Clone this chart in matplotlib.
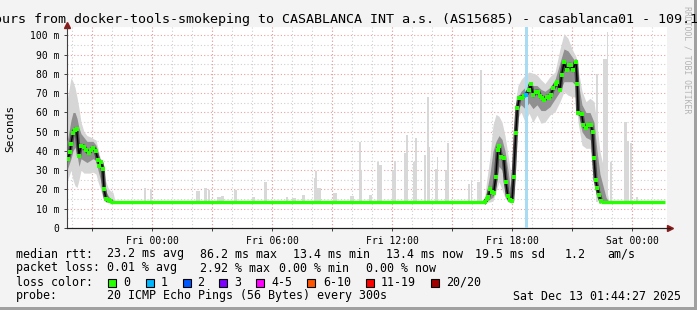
import matplotlib
matplotlib.use("Agg")
import matplotlib.pyplot as plt
from matplotlib.patches import Rectangle

plt.rcParams['font.family'] = ['DejaVu Sans Mono']

W, H = 697, 310

# time axis: hours since Thu 19:44, 30 hours shown
tick_pos = [4.25, 10.25, 16.25, 22.25, 28.25]
tick_labels = ['Fri 00:00', 'Fri 06:00', 'Fri 12:00', 'Fri 18:00', 'Sat 00:00']
y_ticks = [0, 10, 20, 30, 40, 50, 60, 70, 80, 90, 100]
y_labels = ['0'] + ['%d m' % v for v in y_ticks[1:]]

# median rtt (ms), busy period at the start
med_a_t = [0.04, 0.15, 0.2, 0.3, 0.4, 0.48, 0.6, 0.7, 0.85, 0.95, 1.09, 1.22, 1.3, 1.43,
           1.55, 1.62, 1.7, 1.79, 1.85, 1.95, 2.09, 2.15]
med_a = [36, 39.4, 43.8, 49.5, 51, 51.3, 37.6, 42.7, 42.2, 40.5, 39, 40.5, 41.7, 40.2,
         35.3, 32.4, 34.4, 30.6, 20.3, 14.9, 14.5, 14.2]

# median rtt (ms), busy period in the evening
med_b_t = [20.9, 20.99, 21.07, 21.15, 21.24, 21.33, 21.44, 21.54, 21.6, 21.7, 21.83, 21.94,
           22.04, 22.15, 22.25, 22.33, 22.44, 22.52, 22.62, 22.73, 22.83, 22.93, 23.11, 23.18,
           23.32, 23.45, 23.56, 23.65, 23.76, 23.86, 23.98, 24.1, 24.18, 24.31, 24.43, 24.52,
           24.65, 24.73, 24.85, 24.98, 25.11, 25.2, 25.28, 25.45, 25.51, 25.56, 25.73, 25.82,
           25.95, 26.06, 26.2, 26.28, 26.35, 26.43, 26.52, 26.6, 26.7]
med_b = [13.6, 14.9, 16.3, 20, 18.9, 18, 26.7, 40.5, 42.4, 37, 36.6, 24,
         16.5, 14.5, 13.9, 26.3, 49.2, 62.2, 67.7, 67.7, 68.5, 69, 71.7, 74.6,
         69, 70.8, 70.8, 68.7, 67.7, 66.5, 68.2, 67.7, 69, 72.5, 74.6, 75.7,
         71.7, 79.5, 86, 82, 84.7, 84.7, 82, 86.4, 75, 59.6, 59.3, 53.5,
         52, 53.5, 53.5, 49.7, 36.5, 25, 20.6, 17.1, 14]
loss1_t = [22.93]
loss1_v = [69]

# quiet baseline median
base_rtt = 13.4
base_spans = [(2.15, 20.9), (26.7, 29.9)]

# smoke envelope, start period: max, min, inner band
smoke_a_t = [0, 0.1, 0.2, 0.3, 0.4, 0.5, 0.6, 0.7, 0.85, 1.0, 1.15, 1.3, 1.45, 1.55, 1.65,
             1.75, 1.85, 1.95, 2.05, 2.15, 2.3, 2.4]
smoke_a_hi = [66, 72, 78, 76, 73, 68, 62, 55, 50, 48, 47.4, 46.5, 45.7, 41.5, 37, 32, 29, 24,
              21, 19.5, 18.5, 14]
smoke_a_lo = [24, 27, 30, 25, 22, 21, 25, 30, 28.5, 28.5, 28.5, 29, 28, 24, 21, 17, 15.6, 13.5,
              13.3, 13.3, 13.3, 13.3]
smoke_a_hi2 = [45, 50, 56, 60, 60, 57, 52, 49, 47, 45, 45, 45, 43, 39, 36, 33, 26, 19, 17, 15.5,
               14.5, 13.5]
smoke_a_lo2 = [30, 33, 36, 40, 42, 38, 32, 36, 35, 34, 35, 36, 35, 30, 26, 22, 16, 13.5, 13.5,
               13.4, 13.4, 13.4]

# smoke envelope, evening period
smoke_b_t = [20.85, 21.0, 21.15, 21.3, 21.45, 21.6, 21.75, 21.9, 22.05, 22.15, 22.25, 22.35,
             22.45, 22.55, 22.7, 22.9, 23.1, 23.3, 23.5, 23.7, 23.9, 24.15, 24.4, 24.65, 24.85,
             25.05, 25.25, 25.45, 25.55, 25.75, 25.95, 26.15, 26.35, 26.5, 26.65, 26.8, 26.95,
             27.1]
smoke_b_hi = [13.5, 26, 37, 53.5, 59, 58, 55, 48, 38, 31, 27.5, 48, 67.5, 74, 77, 79.5, 81,
              80.4, 79.5, 77, 75, 78.6, 81, 93, 101, 98.5, 93, 89, 83, 71, 65.6, 67.4, 65.6,
              53.5, 39.6, 32.7, 22, 13.5]
smoke_b_lo = [13.3, 13.4, 13.5, 14, 19, 24, 20, 15.6, 13.5, 13.4, 13.4, 14, 32.7, 57, 60.4,
              55, 59.6, 55, 58.7, 54.4, 55, 58.7, 60.4, 65.6, 70.8, 69, 68.2, 68, 55, 43, 41.4,
              41.4, 34.4, 20.6, 13.5, 13.4, 13.3, 13.3]
smoke_b_hi2 = [13.5, 20, 28, 40, 45, 48, 46, 40, 30, 22, 18, 35, 58, 68, 71, 73, 75, 74, 74,
               72, 71, 73, 77, 86, 93, 92, 89, 86, 76, 64, 60, 60, 55, 40, 28, 22, 16, 13.4]
smoke_b_lo2 = [13.4, 14, 15, 16, 22, 32, 30, 20, 14.5, 13.5, 13.5, 18, 42, 62, 64, 62, 65, 62,
               64, 61, 61, 63, 67, 71, 76, 76, 76, 74, 60, 50, 47, 46, 42, 25, 15, 13.5, 13.4,
               13.4]

# isolated max-ping spikes during the quiet hours: time, width (h), top (ms)
spike_t = [3.9, 4.2, 6.5, 6.62, 6.9, 7.12, 7.6, 7.75, 8.4, 9.32, 9.9, 11.0, 11.35, 11.8, 12.4,
           12.45, 12.62, 13.4, 14.25, 14.65, 14.72, 15.15, 15.55, 15.68, 16.3, 16.42, 16.9,
           17.0, 17.35, 17.45, 17.92, 18.05, 18.12, 18.45, 18.5, 18.95, 19.05, 20.1, 20.22,
           20.55, 20.7, 26.5, 26.88, 27.02, 27.2, 27.9, 28.05, 28.2, 28.5]
spike_w = [0.1, 0.1, 0.1, 0.1, 0.15, 0.1, 0.2, 0.15, 0.15, 0.15, 0.15, 0.1, 0.2, 0.15, 0.1,
           0.06, 0.2, 0.2, 0.2, 0.1, 0.1, 0.15, 0.1, 0.15, 0.1, 0.1, 0.1,
           0.06, 0.15, 0.1, 0.1, 0.07, 0.1, 0.1, 0.05, 0.15, 0.07, 0.1, 0.07,
           0.15, 0.07, 0.1, 0.2, 0.07, 0.1, 0.15, 0.1, 0.1, 0.1]
spike_top = [20.8, 20, 19, 19.2, 20.6, 19.7, 16, 16.5, 19.5, 16, 24, 16, 15.5, 17, 26,
             29.6, 21, 18.3, 16.5, 44.8, 30, 17, 34.4, 32.7, 30, 34.8, 38.8,
             48.3, 34.4, 46.6, 37.7, 68.2, 42, 30.5, 37, 30, 44, 23, 25,
             24, 82, 80, 88, 102, 34.5, 55, 45, 44, 16]

blue_span = (22.9, 23.04)

loss_labels = ['0', '1', '2', '3', '4-5', '6-10', '11-19', '20/20']
loss_colors = ['#26ff00', '#00b8ff', '#0059ff', '#7e00ff', '#ff00ff', '#ff5500', '#ff0000', '#a10000']
loss_box_x = [108, 146, 183, 219, 256, 307, 366, 431]
loss_text_x = [123, 161, 197, 234, 271, 323, 381, 446]

fig = plt.figure(figsize=(W / 100, H / 100), dpi=100, facecolor='#f3f3f3')
ax = fig.add_axes([67 / W, 82 / H, 600 / W, 201 / H])
ax.set_facecolor('white')
ax.set_xlim(0, 30)
ax.set_ylim(0, 104.4)

# grid: minor grey, major red
for h in [0.25 + i for i in range(30)]:
    ax.axvline(h, color='#d0d0d0', lw=0.8, ls=(0, (1, 2)), zorder=0)
for v in [5 + 10 * i for i in range(11)]:
    ax.axhline(v, color='#d0d0d0', lw=0.8, ls=(0, (1, 2)), zorder=0)
for h in [1.25 + 3 * i for i in range(10)]:
    ax.axvline(h, color='#e8a0a0', lw=0.8, ls=(0, (1, 2)), zorder=0)
for v in y_ticks[1:]:
    ax.axhline(v, color='#e8a0a0', lw=0.8, ls=(0, (1, 2)), zorder=0)

# spikes
ax.bar(spike_t, [t - base_rtt for t in spike_top], width=spike_w, bottom=base_rtt,
       color='#d8d8d8', lw=0, zorder=1)

# smoke
for t, hi, lo, hi2, lo2 in [(smoke_a_t, smoke_a_hi, smoke_a_lo, smoke_a_hi2, smoke_a_lo2),
                            (smoke_b_t, smoke_b_hi, smoke_b_lo, smoke_b_hi2, smoke_b_lo2)]:
    ax.fill_between(t, lo, hi, color='#d6d6d6', lw=0, zorder=2)
    ax.fill_between(t, lo2, hi2, color='#909090', lw=0, zorder=3)

ax.axvspan(blue_span[0], blue_span[1], color='#a8dcf2', lw=0, zorder=3.5)

# median: dark core, then loss-coloured points
for t, m in [(med_a_t, med_a), (med_b_t, med_b)]:
    ax.plot(t, m, color='#4a4a4a', lw=3.0, zorder=4)
    ax.plot(t, m, color='black', lw=1.0, zorder=5)
    ax.plot(t, m, ls='none', marker='s', ms=2.6, mew=0, color='#26ff00', zorder=6)
ax.plot(loss1_t, loss1_v, ls='none', marker='s', ms=2.6, mew=0, color='#00b8ff', zorder=6)
for a, b in base_spans:
    ax.plot([a, b], [base_rtt, base_rtt], color='#26ff00', lw=2.4, solid_capstyle='butt', zorder=6)

# axes
for s in ['top', 'right']:
    ax.spines[s].set_visible(False)
ax.spines['left'].set_color('#404040')
ax.spines['bottom'].set_color('#202020')
ax.spines['left'].set_linewidth(0.8)
ax.spines['bottom'].set_linewidth(0.8)
ax.plot([0], [1.01], transform=ax.transAxes, marker='^', ms=5, color='#8b1a1a', clip_on=False)
ax.plot([1.005], [0], transform=ax.transAxes, marker='>', ms=5, color='#8b1a1a', clip_on=False)
ax.plot([0, 1.005], [0, 0], transform=ax.transAxes, color='#202020', lw=0.8, clip_on=False)

ax.set_xticks(tick_pos)
ax.set_xticklabels(tick_labels, fontsize=7)
ax.set_xticks([1.25 + 3 * i for i in range(10)], minor=True)
ax.set_yticks(y_ticks)
ax.set_yticklabels(y_labels, fontsize=7)
ax.tick_params(axis='both', length=2.5, width=0.7, color='#404040', pad=3)
ax.tick_params(axis='x', which='minor', length=2, width=0.7, color='#404040')

fig.text(10 / W, 1 - 128 / H, 'Seconds', rotation=90, fontsize=8, ha='center', va='center')
fig.text(687 / W, 1 - 60 / H, 'RRDTOOL / TOBI OETIKER', rotation=270, fontsize=5.9,
         color='#b4b4b4', ha='center', va='center')

fig.text(-78 / W, 1 - 19 / H,
         'Last 30 Hours from docker-tools-smokeping to CASABLANCA INT a.s. (AS15685) - casablanca01 - 109.1',
         fontsize=9.6, ha='left', va='center')

# legend block
def line(y, parts):
    for x, s in parts:
        fig.text(x / W, 1 - y / H, s, fontsize=8.4, ha='left', va='center')

line(254, [(16, 'median rtt:'), (107, '23.2 ms avg'), (200, '86.2 ms max'), (293, '13.4 ms min'),
           (386, '13.4 ms now'), (475, '19.5 ms sd'), (565, '1.2'), (607, 'am/s')])
line(268, [(16, 'packet loss:'), (107, '0.01 % avg'), (200, '2.92 % max'), (279, '0.00 % min'),
           (366, '0.00 % now')])
line(282, [(16, 'loss color:')] + list(zip(loss_text_x, loss_labels)))
line(296, [(16, 'probe:'), (107, '20 ICMP Echo Pings (56 Bytes) every 300s'),
           (513, 'Sat Dec 13 01:44:27 2025')])
for x, c in zip(loss_box_x, loss_colors):
    fig.add_artist(Rectangle((x / W, 1 - 286.5 / H), 8 / W, 8 / H, transform=fig.transFigure,
                             facecolor=c, edgecolor='black', lw=0.8))

# frame
fig.add_artist(Rectangle((0, 0), 1, 3 / H, transform=fig.transFigure, color='#a0a0a0', lw=0))
fig.add_artist(Rectangle((1 - 3 / W, 0), 3 / W, 1, transform=fig.transFigure, color='#a0a0a0', lw=0))

fig.savefig('out.png', dpi=100, facecolor=fig.get_facecolor())
